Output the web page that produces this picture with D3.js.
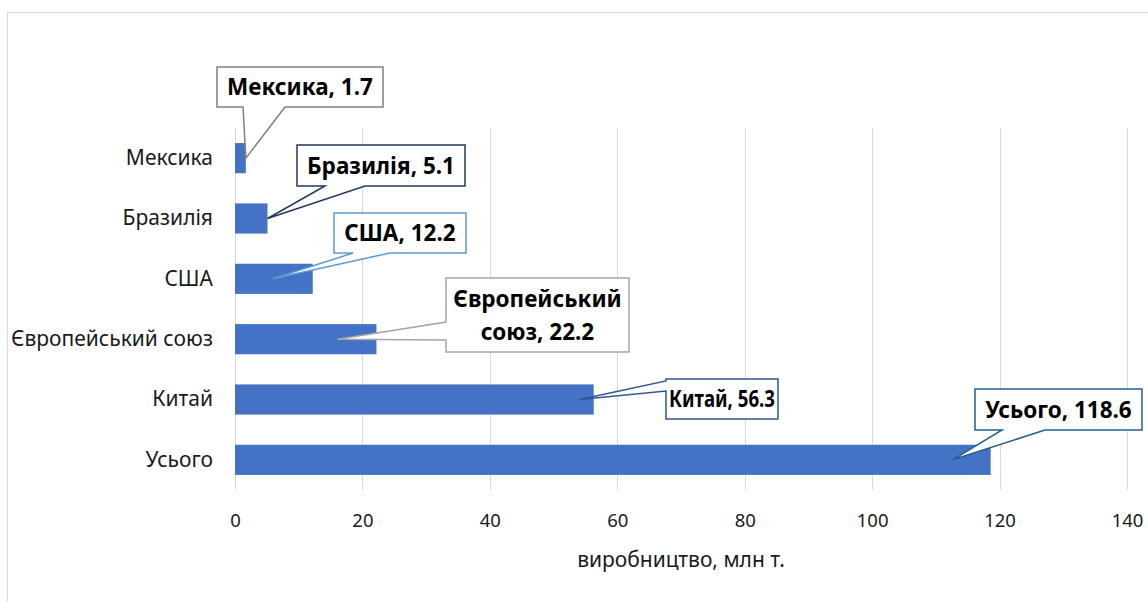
<!DOCTYPE html>
<html>
<head>
<meta charset="utf-8">
<script src="https://cdn.jsdelivr.net/npm/d3@7"></script>
<style>
    body { margin: 0; background: #fff; }
    svg { display: block; }
</style>
</head>
<body>
<div id="chart"></div>
<script>
// data
const categories = ["Мексика", "Бразилія", "США", "Європейський союз", "Китай", "Усього"];
const values = [1.7, 5.1, 12.2, 22.2, 56.3, 118.6];
const ticks = [0, 20, 40, 60, 80, 100, 120, 140];
const axisTitle = "виробництво, млн т.";

// callout boxes (layout only): box, side where the wedge sits, wedge base, tip offset from bar end
const callouts = [
    { box: [217, 67, 383, 107], side: "bottom", base: [243, 285], dx: 0, color: "#7f7f7f", lines: ["Мексика, 1.7"] },
    { box: [297, 145, 465, 186], side: "bottom", base: [325, 365], dx: 0, color: "#203864", lines: ["Бразилія, 5.1"] },
    { box: [334, 213, 466, 253], side: "bottom", base: [353, 390], dx: -40, color: "#5b9bd5", lines: ["США, 12.2"] },
    { box: [446, 278, 629, 352], side: "left", base: [322, 340], dx: -39, color: "#a5a5a5", lines: ["Європейський", "союз, 22.2"] },
    { box: [666, 379, 778, 419], side: "left", base: [381, 391], dx: -14, color: "#2f5597", lines: ["Китай, 56.3"] },
    { box: [975, 389, 1142, 430], side: "bottom", base: [1002, 1045], dx: -38, color: "#255e91", lines: ["Усього, 118.6"] }
];

const W = 1148, H = 601;
const margin = { top: 128, right: 21, bottom: 111, left: 235 };
const FONT = "'Noto Sans', 'Open Sans', sans-serif";
const TEXT = "#1a1a1a";

const svg = d3.select("#chart").append("svg")
    .attr("width", W)
    .attr("height", H);

// chart area border
svg.append("rect")
    .attr("x", 7.5).attr("y", 12.5)
    .attr("width", 1200).attr("height", 700)
    .attr("fill", "#fff")
    .attr("stroke", "#d9d9d9");

const x = d3.scaleLinear()
    .domain([0, 140])
    .range([margin.left, W - margin.right]);

const y = d3.scaleBand()
    .domain(categories)
    .range([margin.top, H - margin.bottom])
    .paddingInner(0.5)
    .paddingOuter(0.25);

// gridlines
svg.append("g")
    .selectAll("line")
    .data(ticks)
    .join("line")
    .attr("x1", d => Math.round(x(d)) + 0.5)
    .attr("x2", d => Math.round(x(d)) + 0.5)
    .attr("y1", margin.top)
    .attr("y2", H - margin.bottom)
    .attr("stroke", "#d9d9d9")
    .attr("stroke-width", 1);

// x axis labels
const xAxis = svg.append("g")
    .attr("transform", `translate(0,${H - margin.bottom})`)
    .call(d3.axisBottom(x).tickValues(ticks).tickSize(0).tickPadding(24).tickFormat(d3.format("d")));
xAxis.select(".domain").remove();
xAxis.selectAll("text")
    .style("font-family", FONT)
    .style("font-size", "18.5px")
    .attr("fill", TEXT);

// y axis labels
const yAxis = svg.append("g")
    .attr("transform", `translate(${margin.left},0)`)
    .call(d3.axisLeft(y).tickSize(0).tickPadding(22));
yAxis.select(".domain").remove();
yAxis.selectAll("text")
    .style("font-family", FONT)
    .style("font-size", "21px")
    .attr("fill", TEXT);

// bars
svg.append("g")
    .selectAll("rect")
    .data(values)
    .join("rect")
    .attr("x", x(0))
    .attr("y", (d, i) => y(categories[i]))
    .attr("width", d => x(d) - x(0))
    .attr("height", y.bandwidth())
    .attr("fill", "#4472c4");

// axis title
svg.append("text")
    .attr("x", (x(0) + x(140)) / 2)
    .attr("y", 567)
    .attr("text-anchor", "middle")
    .style("font-family", FONT)
    .style("font-size", "21px")
    .attr("fill", TEXT)
    .text(axisTitle);

// callouts
function calloutPath(c, tip) {
    const [x0, y0, x1, y1] = c.box;
    const [b1, b2] = c.base;
    if (c.side === "bottom") {
        return `M${x0},${y0}H${x1}V${y1}H${b2}L${tip[0]},${tip[1]}L${b1},${y1}H${x0}Z`;
    }
    return `M${x0},${y0}H${x1}V${y1}H${x0}V${b2}L${tip[0]},${tip[1]}L${x0},${b1}Z`;
}

const cg = svg.append("g")
    .selectAll("g")
    .data(callouts)
    .join("g");

cg.append("path")
    .attr("d", (c, i) => calloutPath(c, [x(values[i]) + c.dx, y(categories[i]) + y.bandwidth() / 2]))
    .attr("fill", "#fff")
    .attr("stroke", c => c.color)
    .attr("stroke-width", 1.5);

cg.each(function(c) {
    const [x0, y0, x1, y1] = c.box;
    const cx = (x0 + x1) / 2, cy = (y0 + y1) / 2;
    const lh = 33;
    const maxW = (x1 - x0) - 6;
    const t = d3.select(this).append("text")
        .attr("text-anchor", "middle")
        .style("font-family", FONT)
        .style("font-size", "22.5px")
        .style("font-weight", "bold")
        .attr("fill", "#000");
    c.lines.forEach((line, i) => {
        const ts = t.append("tspan")
            .attr("x", cx)
            .attr("y", cy + (i - (c.lines.length - 1) / 2) * lh)
            .attr("dy", "0.36em")
            .text(line);
        // shrink to fit the box if needed
        if (ts.node().getComputedTextLength() > maxW) {
            ts.attr("textLength", maxW).attr("lengthAdjust", "spacingAndGlyphs");
        }
    });
});
</script>
</body>
</html>
